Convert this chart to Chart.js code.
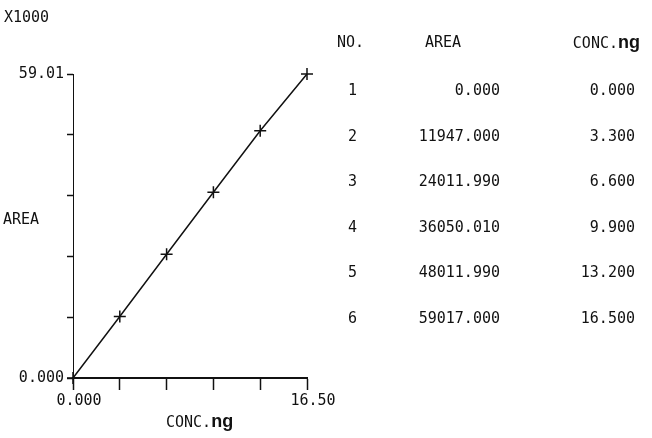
<!DOCTYPE html>
<html>
<head>
<meta charset="utf-8">
<script src="https://cdn.jsdelivr.net/npm/chart.js@4"></script>
<style>
  body { margin: 0; background: #fff; }
  #wrap { position: relative; width: 652px; height: 438px; overflow: hidden; font-family: "DejaVu Sans Mono", monospace; font-size: 15px; color: #111; }
  #wrap canvas { position: absolute; left: 0; top: 0; }
  .t { position: absolute; line-height: 16px; white-space: nowrap; }
  .ng { font-family: "Liberation Sans", Arial, sans-serif; font-weight: bold; font-size: 18px; }
</style>
</head>
<body>
<div id="wrap">
  <canvas id="chart" width="652" height="438"></canvas>
  <div class="t" style="left:4px; top:9px;">X1000</div>
  <div class="t" style="left:3px; top:211px;">AREA</div>
  <div class="t" style="left:166px; top:413px;">CONC.<span class="ng">ng</span></div>
  <div class="t" style="left:337px; top:34px;">NO.</div>
  <div class="t" style="left:425px; top:34px;">AREA</div>
  <div class="t" style="right:12px; top:34px;">CONC.<span class="ng">ng</span></div>
</div>
<script>
// calibration data
const runNo = [1, 2, 3, 4, 5, 6];
const areas = [0, 11947.0, 24011.99, 36050.01, 48011.99, 59017.0];
const concs = [0, 3.3, 6.6, 9.9, 13.2, 16.5];

// axis ticks
const xTicks = [0, 3.3, 6.6, 9.9, 13.2, 16.5];
const xTickLabels = ['0.000', '', '', '', '', '16.50'];
const yTicks = [0, 11803.4, 23606.8, 35410.2, 47213.6, 59017];
const yTickLabels = ['0.000', '', '', '', '', '59.01'];

// table on the right
const wrap = document.getElementById('wrap');
runNo.forEach(function (n, i) {
  const top = 82 + i * 45.6;
  const a = document.createElement('div');
  a.className = 't';
  a.style.cssText = 'left:348px; top:' + top + 'px;';
  a.textContent = n;
  wrap.appendChild(a);
  const b = document.createElement('div');
  b.className = 't';
  b.style.cssText = 'right:152px; top:' + top + 'px;';
  b.textContent = areas[i].toFixed(3);
  wrap.appendChild(b);
  const c = document.createElement('div');
  c.className = 't';
  c.style.cssText = 'right:17px; top:' + top + 'px;';
  c.textContent = concs[i].toFixed(3);
  wrap.appendChild(c);
});

const tickFont = { family: 'DejaVu Sans Mono', size: 15 };

const ctx = document.getElementById('chart').getContext('2d');
new Chart(ctx, {
  type: 'scatter',
  data: {
    datasets: [{
      data: concs.map(function (c, i) { return { x: c, y: areas[i] }; }),
      showLine: true,
      borderColor: '#111',
      borderWidth: 1.5,
      pointStyle: 'cross',
      pointRadius: 6,
      pointBorderWidth: 1.5,
      pointBorderColor: '#111',
      clip: false
    }]
  },
  options: {
    responsive: false,
    animation: false,
    devicePixelRatio: 1,
    layout: { padding: { top: 74, right: 345, left: 0, bottom: 0 } },
    plugins: { legend: { display: false }, tooltip: { enabled: false } },
    scales: {
      x: {
        type: 'linear',
        min: 0,
        max: 16.5,
        afterBuildTicks: function (scale) { scale.ticks = xTicks.map(function (v) { return { value: v }; }); },
        afterFit: function (scale) { scale.height = 60; },
        ticks: {
          autoSkip: false,
          maxRotation: 0,
          color: '#111',
          font: tickFont,
          padding: 2,
          labelOffset: 6,
          callback: function (v, i) { return xTickLabels[i]; }
        },
        grid: { drawOnChartArea: false, tickLength: 12, tickWidth: 1.5, tickColor: '#111' },
        border: { color: '#111', width: 2 }
      },
      y: {
        type: 'linear',
        min: 0,
        max: 59017,
        afterBuildTicks: function (scale) { scale.ticks = yTicks.map(function (v) { return { value: v }; }); },
        afterFit: function (scale) { scale.width = 73; },
        ticks: {
          autoSkip: false,
          color: '#111',
          font: tickFont,
          padding: 3,
          callback: function (v, i) { return yTickLabels[i]; }
        },
        grid: { drawOnChartArea: false, tickLength: 6, tickWidth: 1.5, tickColor: '#111' },
        border: { color: '#111', width: 1 }
      }
    }
  }
});
</script>
</body>
</html>
